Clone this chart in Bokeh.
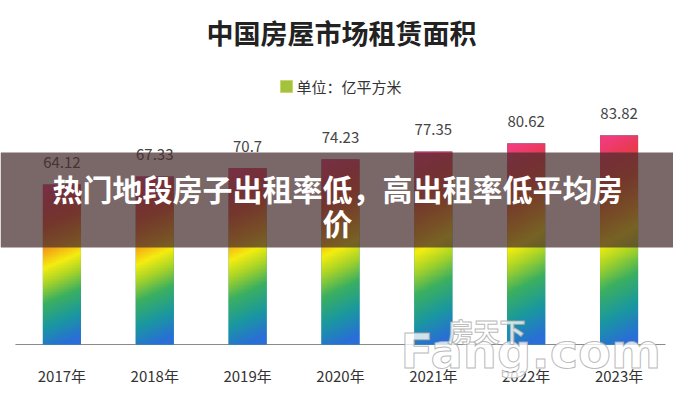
import numpy as np
from bokeh.plotting import figure
from bokeh.models import Range1d, BoxAnnotation, Label
from bokeh.core.properties import value
from bokeh.embed import file_html
from bokeh.resources import INLINE

# ---- data ----
years = ["2017年", "2018年", "2019年", "2020年", "2021年", "2022年", "2023年"]
areas = [64.12, 67.33, 70.7, 74.23, 77.35, 80.62, 83.82]
title_text = "中国房屋市场租赁面积"
unit_text = "单位：亿平方米"
banner_line1 = "热门地段房子出租率低，高出租率低平均房"
banner_line2 = "价"

FONT = "Noto Sans CJK SC"
W, H = 673, 400

# pixel helpers (picture coords -> data)
PX_PER_X = 92.86
PX_PER_Y = 2.495
def dx(px):
    return (px - 61.4) / PX_PER_X
def dy(py):
    return (344 - py) / PX_PER_Y

idx = list(range(len(years)))

p = figure(width=W, height=H, output_backend="svg", toolbar_location=None,
           x_range=Range1d(dx(0), dx(W)), y_range=Range1d(dy(H), dy(0)),
           x_axis_location=None, y_axis_location=None,
           min_border_left=0, min_border_right=0, min_border_top=0, min_border_bottom=0)
p.outline_line_color = None
p.grid.visible = False
p.background_fill_color = "white"
p.border_fill_color = "white"

# axis line
p.segment(x0=[-0.5], y0=[0], x1=[6.5], y1=[0], line_color="#8a8a8a", line_width=1.2)

# category labels
p.text(x=idx, y=[dy(375)] * len(idx), text=years, text_align="center",
       text_baseline="middle", text_font=value(FONT), text_font_size="15px",
       text_color="#333333")

# bars
BW = 0.41
p.vbar(x=idx, top=areas, width=BW, fill_color="#1a98a0", line_color=None)

stops_t = [0.0, 0.15, 0.30, 0.42, 0.52, 0.62, 0.78, 0.90, 1.0]
stops_c = ["#2a6ed8", "#1a98a0", "#3cb060", "#a8d428", "#f4ee10", "#f5a818",
           "#e85030", "#e83a50", "#f03c78"]
stops_rgb = np.array([[int(c[1:3], 16), int(c[3:5], 16), int(c[5:7], 16)] for c in stops_c], dtype=float)

def grad_image(nrows=220, ncols=24):
    fy = (np.arange(nrows) + 0.5) / nrows
    fx = (np.arange(ncols) + 0.5) / ncols
    FY, FX = np.meshgrid(fy, fx, indexing="ij")
    t = np.clip(FY + 0.10 * (0.5 - FX), 0, 1)
    img = np.empty((nrows, ncols), dtype=np.uint32)
    view = img.view(dtype=np.uint8).reshape((nrows, ncols, 4))
    for k in range(3):
        view[:, :, k] = np.interp(t, stops_t, stops_rgb[:, k]).astype(np.uint8)
    view[:, :, 3] = 255
    return img

imgs = [grad_image() for _ in areas]
p.image_rgba(image=imgs, x=[i - BW / 2 for i in idx], y=[0] * len(idx),
             dw=[BW] * len(idx), dh=areas)

# value labels
p.text(x=idx, y=areas, text=[f"{v:g}" for v in areas], text_align="center",
       text_baseline="middle", y_offset=-22, text_font=value(FONT),
       text_font_size="15px", text_color="#444444")

# legend marker + unit text
p.quad(left=[dx(280)], right=[dx(292)], bottom=[dy(92)], top=[dy(80)],
       fill_color="#a4c23c", line_color="#c8d870", line_width=1)
p.add_layout(Label(x=dx(296), y=dy(86), text=unit_text, text_align="left",
                   text_baseline="middle", text_font=FONT, text_font_size="15px",
                   text_color="#333333"))

# title
p.add_layout(Label(x=dx(341), y=dy(32), text=title_text, text_align="center",
                   text_baseline="middle", text_font=FONT, text_font_size="27px",
                   text_font_style="bold", text_color="#222222"))

# watermark (white text, grey outline)
p.add_layout(Label(x=dx(400), y=dy(350), text="Fang.com", text_align="left",
                   text_baseline="alphabetic", text_font="DejaVu Sans",
                   text_font_size="48px", text_font_style="bold",
                   text_color="white", text_alpha=0.8,
                   text_outline_color="#a8a8a8"))
p.add_layout(Label(x=dx(447), y=dy(330), text="房天下", text_align="left",
                   text_baseline="alphabetic", text_font=FONT,
                   text_font_size="26px", text_font_style="bold",
                   text_color="white", text_alpha=0.8,
                   text_outline_color="#a8a8a8"))

# banner overlay
p.add_layout(BoxAnnotation(bottom=dy(247), top=dy(152), fill_color="#462d2d",
                           fill_alpha=0.72, line_color=None))
p.add_layout(Label(x=dx(337), y=dy(187), text=banner_line1, text_align="center",
                   text_baseline="middle", text_font=FONT, text_font_size="30px",
                   text_font_style="bold", text_color="white"))
p.add_layout(Label(x=dx(337), y=dy(221), text=banner_line2, text_align="center",
                   text_baseline="middle", text_font=FONT, text_font_size="30px",
                   text_font_style="bold", text_color="white"))

open("out.html", "w").write(file_html(p, INLINE))
